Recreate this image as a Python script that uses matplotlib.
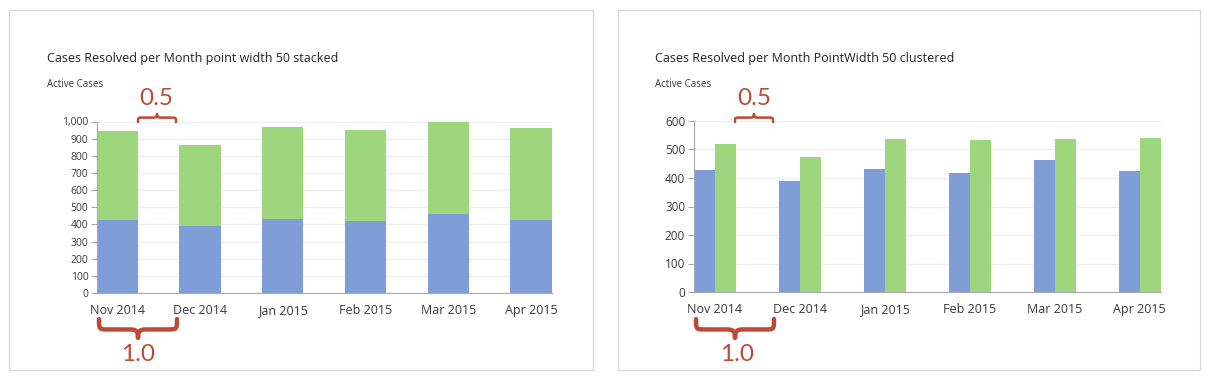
import matplotlib.pyplot as plt
import matplotlib.patches as mpatches
import matplotlib.transforms as mtransforms
from matplotlib.path import Path
import numpy as np

# Data
months = ['Nov 2014', 'Dec 2014', 'Jan 2015', 'Feb 2015', 'Mar 2015', 'Apr 2015']
series_a = [427, 388, 432, 418, 462, 423]
series_b = [518, 475, 536, 535, 536, 540]
stacked_ticks = [0, 100, 200, 300, 400, 500, 600, 700, 800, 900, 1000]
clustered_ticks = [0, 100, 200, 300, 400, 500, 600]

BLUE = '#7f9ed7'
GREEN = '#9ed67e'
RED = '#bc4a36'
TXT = '#3a3a3a'
W, H = 1210, 380

plt.rcParams['font.family'] = ['Open Sans', 'DejaVu Sans']

fig = plt.figure(figsize=(W / 100, H / 100), dpi=100)
# pixel coordinates, origin top-left
px = mtransforms.Affine2D().scale(1 / W, -1 / H).translate(0, 1) + fig.transFigure


def style_axes(ax, ticks, labsize):
    ax.set_xlim(-0.25, len(months) - 0.75)
    ax.set_ylim(0, ticks[-1])
    ax.set_yticks(ticks)
    ax.set_yticklabels([f'{t:,}' for t in ticks])
    ax.set_xticks(range(len(months)))
    ax.set_xticklabels(months)
    for s in ['top', 'right']:
        ax.spines[s].set_visible(False)
    ax.spines['left'].set_color('#a8a8b0')
    ax.spines['bottom'].set_color('#a8a8b0')
    ax.tick_params(axis='y', length=4, color='#a8a8b0', labelsize=labsize, labelcolor=TXT, pad=2)
    ax.tick_params(axis='x', length=0, labelsize=9, labelcolor=TXT, pad=8)
    ax.grid(axis='y', color='#eeeef4', linewidth=1)
    ax.set_axisbelow(True)


def brace(x0, x1, y, h, lw):
    # curly brace from x0 to x1, ends at y, tip at y+h (h<0 points up)
    xm = (x0 + x1) / 2
    q = min((x1 - x0) * 0.12, 9)
    t = q * 0.9
    ym = y + h * 0.55
    verts = [(x0, y), (x0, ym), (x0, ym), (x0 + q, ym),
             (xm - t, ym), (xm - t * 0.2, ym), (xm, ym + (h * 0.1)), (xm, y + h),
             (xm, ym + (h * 0.1)), (xm + t * 0.2, ym), (xm + t, ym),
             (x1 - q, ym), (x1, ym), (x1, ym), (x1, y)]
    codes = [Path.MOVETO, Path.CURVE4, Path.CURVE4, Path.CURVE4,
             Path.LINETO, Path.CURVE4, Path.CURVE4, Path.CURVE4,
             Path.CURVE4, Path.CURVE4, Path.CURVE4,
             Path.LINETO, Path.CURVE4, Path.CURVE4, Path.CURVE4]
    fig.add_artist(mpatches.PathPatch(Path(verts, codes), transform=px, fill=False,
                                      edgecolor=RED, linewidth=lw, capstyle='round',
                                      joinstyle='round'))


# panel frames
for x0, x1 in [(9, 593), (618, 1200)]:
    fig.add_artist(mpatches.Rectangle((x0, 10), x1 - x0, 360, transform=px, fill=False,
                                      edgecolor='#d9d9d9', linewidth=1))

x = np.arange(len(months))

# stacked chart
ax1 = fig.add_axes([96.6 / W, 1 - 293 / H, 455 / W, 171.5 / H])
ax1.bar(x, series_a, width=0.5, color=BLUE)
ax1.bar(x, series_b, width=0.5, bottom=series_a, color=GREEN)
style_axes(ax1, stacked_ticks, 7.5)

# clustered chart
ax2 = fig.add_axes([693.5 / W, 1 - 292 / H, 467.5 / W, 171 / H])
ax2.bar(x - 0.125, series_a, width=0.25, color=BLUE)
ax2.bar(x + 0.125, series_b, width=0.25, color=GREEN)
style_axes(ax2, clustered_ticks, 8.5)

# titles
fig.text(47 / W, 1 - 62 / H, 'Cases Resolved per Month point width 50 stacked',
         fontsize=9, color='#222222', va='baseline')
fig.text(47 / W, 1 - 87 / H, 'Active Cases', fontsize=7, color=TXT, va='baseline')
fig.text(655 / W, 1 - 62 / H, 'Cases Resolved per Month PointWidth 50 clustered',
         fontsize=9, color='#222222', va='baseline')
fig.text(655 / W, 1 - 87 / H, 'Active Cases', fontsize=7, color=TXT, va='baseline')

# annotations
afont = ['Lato', 'DejaVu Sans']
for bx, tx in [(138, 156), (735, 754)]:
    brace(bx, bx + 38, 122, -8, 1.8)
    fig.text(tx / W, 1 - 105 / H, '0.5', fontsize=17.5, color=RED, ha='center',
             va='baseline', family=afont)
for bx, tx in [(99, 138), (696, 737)]:
    brace(bx, bx + 78, 319, 19, 3.2)
    fig.text(tx / W, 1 - 361 / H, '1.0', fontsize=17.5, color=RED, ha='center',
             va='baseline', family=afont)

fig.savefig('out.png', dpi=100)
